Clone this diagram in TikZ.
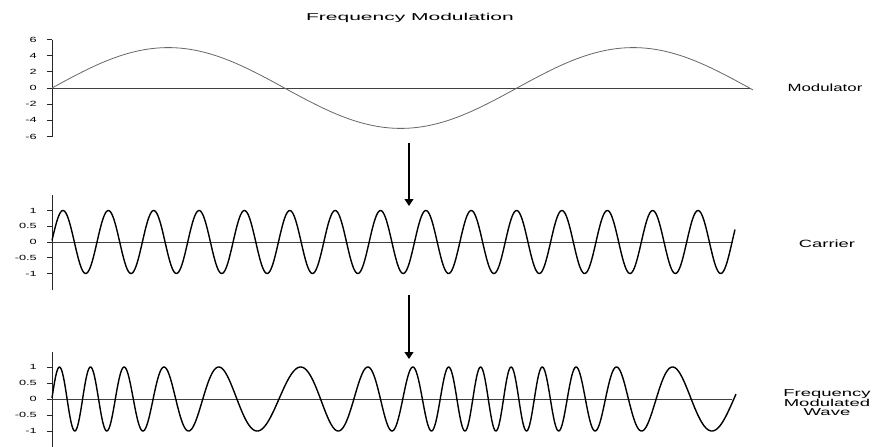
\documentclass[tikz,border=0pt]{standalone}
\usepackage{fontspec}
\setmainfont{Liberation Sans}
\usetikzlibrary{arrows.meta}
\newcommand\hstretch[2]{\scalebox{#1}[1]{#2}}
\begin{document}
\begin{tikzpicture}[x=1pt,y=-1pt,
  axis/.style={line width=0.9pt, black!85},
  zero/.style={line width=0.8pt, black!75},
  modcurve/.style={line width=0.8pt, black!60},
  wave/.style={line width=1.4pt, black, line join=round},
  ticklab/.style={anchor=east, inner sep=0pt, font=\fontsize{7.5}{8}\selectfont},
  lab/.style={inner sep=0pt, align=center},
  flow/.style={line width=1.1pt, -{Triangle[width=9pt,length=7pt]}}]
\fill[white] (0,0) rectangle (873,447);
\useasboundingbox (0,0) rectangle (873,447);

% title
\node[lab, font=\fontsize{10}{11}\selectfont] (title) at (410,18) {\hstretch{2.1}{Frequency Modulation}};

% ---------- modulator ----------
\draw[axis] (52,39.5) -- (52,136.5);
\foreach \v/\yy in {6/39.5,4/55.7,2/71.8,0/88,-2/104.2,-4/120.3,-6/136.5}{
  \draw[axis] (47,\yy) -- (52,\yy);
  \node[ticklab] at (37,\yy) {\hstretch{1.7}{\v}};
}
\draw[zero] (52,88) -- (750,88);
\draw[modcurve] plot[domain=52:753, samples=300, smooth] (\x, {88 - 40.4*sin(0.774194*(\x-52))});
\node[lab, font=\fontsize{10.5}{12}\selectfont] (modlab) at (825,88) {\hstretch{1.6}{Modulator}};

% ---------- carrier ----------
\draw[axis] (52,195) -- (52,290);
\foreach \v/\yy in {1/210.5,0.5/226.3,0/242,-0.5/257.8,-1/273.5}{
  \draw[axis] (47,\yy) -- (52,\yy);
  \node[ticklab] at (37,\yy) {\hstretch{1.7}{\v}};
}
\draw[zero] (52,242) -- (733,242);
\draw[wave] plot[domain=52:735, samples=700] (\x, {242 - 31.5*cos(7.93651*(\x-63))});
\node[lab, font=\fontsize{10.5}{12}\selectfont] (carlab) at (827,244) {\hstretch{1.75}{Carrier}};

% ---------- FM wave ----------
\draw[axis] (52,352) -- (52,447);
\foreach \v/\yy in {1/367,0.5/383,0/399,-0.5/415,-1/431}{
  \draw[axis] (47,\yy) -- (52,\yy);
  \node[ticklab] at (37,\yy) {\hstretch{1.7}{\v}};
}
\draw[zero] (52,399) -- (732,399);
\draw[wave] plot[domain=52:736, samples=800] (\x, {399 - 32*cos(7.956*(\x-52) + 277.2*sin(0.8*(\x-52)) - 88.2)});
\node[lab, font=\fontsize{10}{9.5}\selectfont] (fmlab) at (827,403) {\hstretch{1.85}{Frequency}\\\hstretch{1.85}{Modulated}\\\hstretch{1.85}{Wave}};

% ---------- arrows ----------
\coordinate (a1s) at (409,143);
\coordinate (a1e) at (409,206);
\coordinate (a2s) at (409,295);
\coordinate (a2e) at (409,359);
\draw[flow] (a1s) -- (a1e);
\draw[flow] (a2s) -- (a2e);
\end{tikzpicture}
\end{document}
